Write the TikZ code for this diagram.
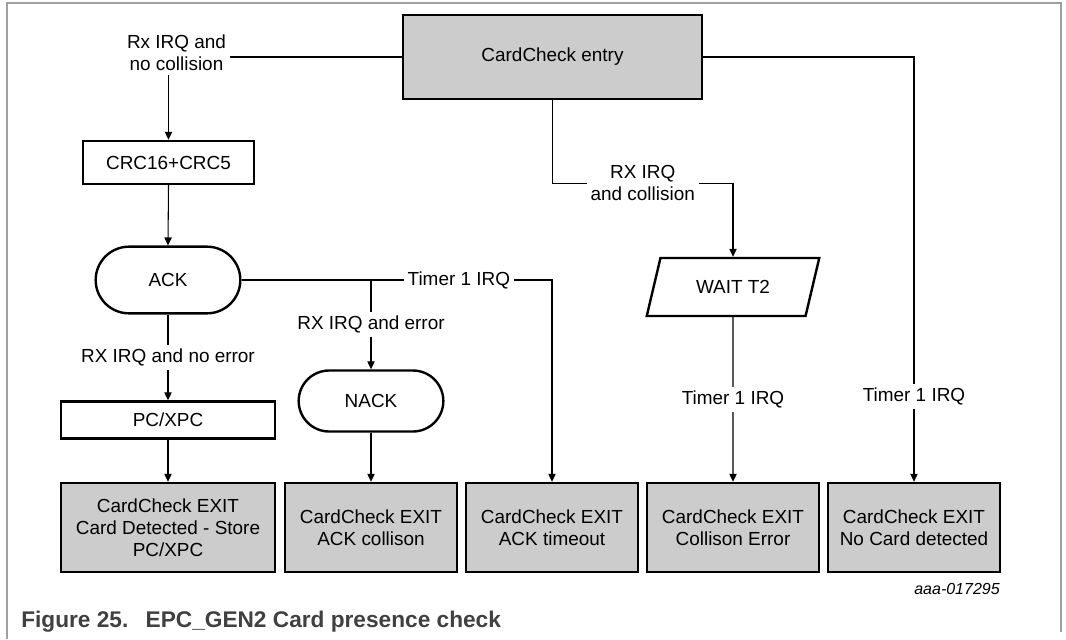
\documentclass[tikz,border=0pt]{standalone}
\usepackage{fontspec}
\setmainfont{Liberation Sans}
\usetikzlibrary{arrows.meta,positioning,calc,shapes.geometric,shapes.misc}
\definecolor{boxgray}{RGB}{204,204,204}
\definecolor{framegray}{RGB}{160,160,160}
\definecolor{capgray}{RGB}{64,64,64}

\begin{document}
\begin{tikzpicture}[x=0.75pt,y=-0.75pt,
    base/.style={draw,line width=1.8pt,font=\fontsize{14.2}{16.5}\selectfont,align=center,inner sep=2pt},
    proc/.style={base,rectangle,fill=white},
    exitbox/.style={base,rectangle,fill=boxgray,minimum width=129pt,minimum height=66.75pt},
    term/.style={base,rounded rectangle,minimum width=112.5pt,minimum height=50pt},
    iobox/.style={base,trapezium,trapezium left angle=68,trapezium right angle=112,
      trapezium stretches=true,minimum width=129.75pt,minimum height=43.5pt},
    lab/.style={fill=white,font=\fontsize{14.2}{16.5}\selectfont,align=center,inner sep=3pt},
    arr/.style={line width=0.8pt,-{Triangle[length=6pt,width=5.5pt]}}]
    \useasboundingbox (0,0) rectangle (1066,639);
    % frame of the figure
    \draw[framegray,line width=1.2pt] (7,639) -- (7,3) -- (1061,3) -- (1061,632);

    % Top: entry and first steps
    \node[proc,fill=boxgray,minimum width=224.25pt,minimum height=63pt] (entry) at (552.5,57) {CardCheck entry};
    \node[proc,minimum width=128.25pt,minimum height=32.25pt] (crc) at (168.5,162.5) {CRC16+CRC5};
    \node[term] (ack) at (168,280) {ACK};
    \node[term,minimum height=45.75pt] (nack) at (371,401) {NACK};
    \node[proc,minimum width=160.5pt,minimum height=27.75pt] (pc) at (168,420) {PC/XPC};
    \node[iobox] (wait) at (733,287) {WAIT T2};

    % Bottom: exits
    \node[exitbox,minimum width=160.5pt] (exit1) at (168,527.5) {CardCheck EXIT\\Card Detected - Store\\PC/XPC};
    \node[exitbox] (exit2) at (371,527.5) {CardCheck EXIT\\ACK collison};
    \node[exitbox] (exit3) at (552,527.5) {CardCheck EXIT\\ACK timeout};
    \node[exitbox] (exit4) at (733,527.5) {CardCheck EXIT\\Collison Error};
    \node[exitbox] (exit5) at (914,527.5) {CardCheck EXIT\\No Card detected};

    % connectors
    \draw[arr] (entry.west) -| node[lab,xshift=6pt,yshift=3pt] {Rx IRQ and\\no collision} (crc.north);
    \draw[arr] (crc.south) -- (ack.north);
    \draw[arr] (entry.south) -- ++(0,83) -| node[lab,pos=0.25] {RX IRQ\\and collision} (wait.north);
    \draw[arr] (entry.east) -| node[lab,pos=0.9] {Timer 1 IRQ} (exit5.north);
    \draw[arr] (ack.east) -| node[lab,pos=0.35] {Timer 1 IRQ} (exit3.north);
    \coordinate (errsplit) at (nack.north |- ack.east);
    \draw[arr] (errsplit) -- node[lab] {RX IRQ and error} (nack.north);
    \draw[arr] (ack.south) -- node[lab] {RX IRQ and no error} (pc.north);
    \draw[arr] (pc.south) -- (exit1.north);
    \draw[arr] (nack.south) -- (exit2.north);
    \draw[arr] (wait.south) -- node[lab] {Timer 1 IRQ} (exit4.north);

    % caption and figure id
    \node[anchor=base east,inner sep=0pt,font=\fontsize{12}{14}\selectfont\itshape] (figid) at (1000,594) {aaa-017295};
    \node[anchor=base west,inner sep=0pt,text=capgray,font=\fontsize{17}{20}\selectfont\bfseries] (caption) at (21,627)
      {Figure 25.\hspace{13pt}EPC\_GEN2 Card presence check};
  \end{tikzpicture}
\end{document}
